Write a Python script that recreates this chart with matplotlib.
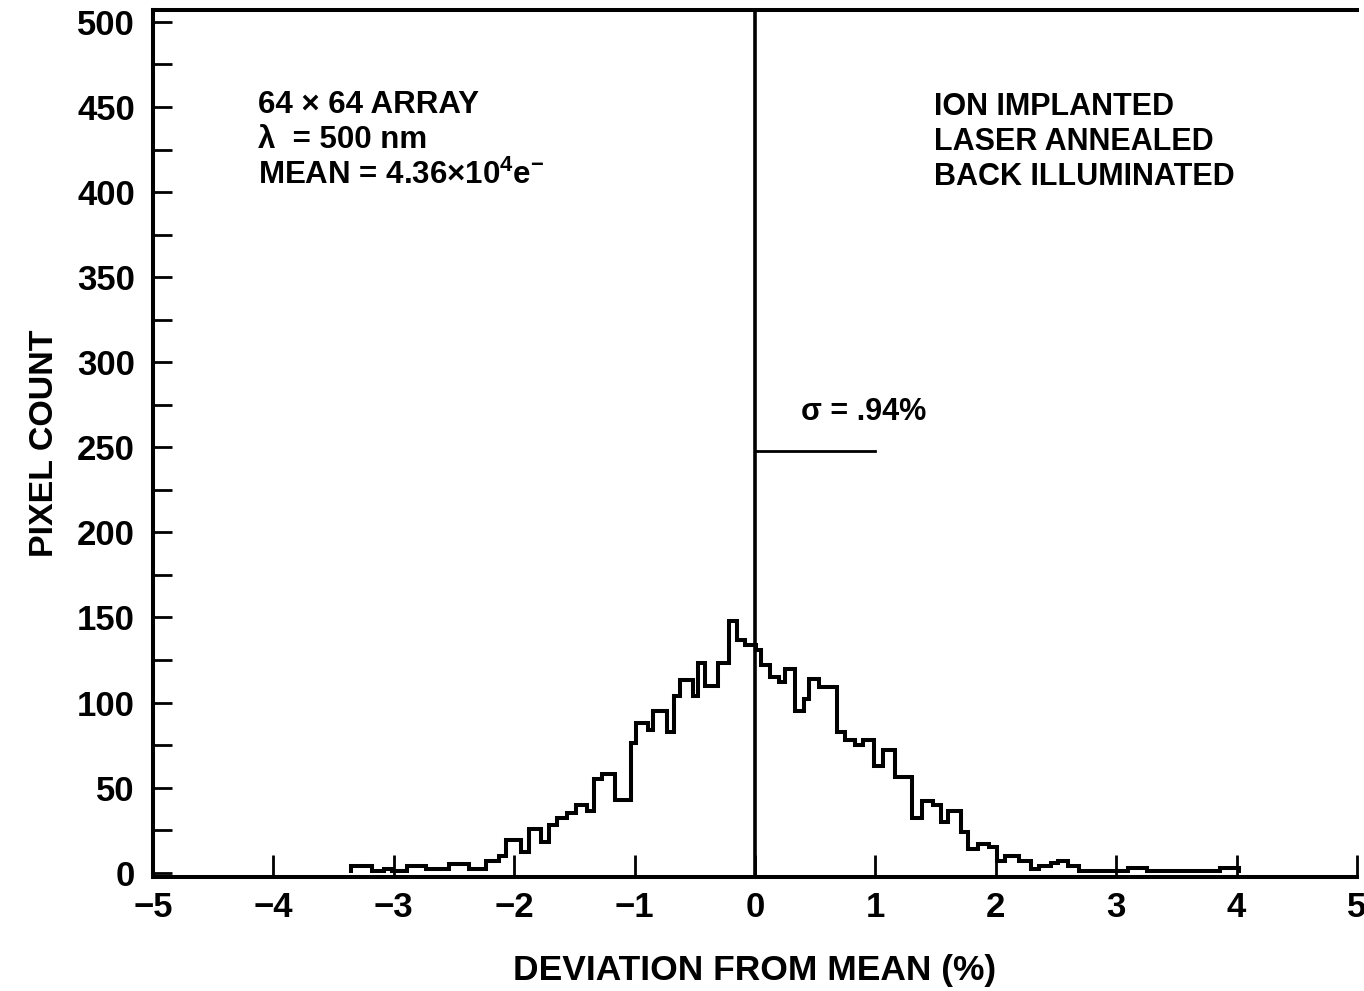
import matplotlib
matplotlib.use("Agg")
import matplotlib.pyplot as plt
from matplotlib.ticker import MultipleLocator

plt.rcParams['font.family'] = ['Liberation Sans', 'DejaVu Sans']
plt.rcParams['font.weight'] = 'bold'
plt.rcParams['mathtext.fontset'] = 'custom'
plt.rcParams['mathtext.rm'] = 'Liberation Sans:bold'
plt.rcParams['mathtext.bf'] = 'Liberation Sans:bold'
plt.rcParams['mathtext.default'] = 'bf'

# bin edges (deviation from mean, %) and pixel counts
edges = [-3.355, -3.185, -3.081, -3.016, -2.892, -2.733, -2.542, -2.375, -2.233, -2.125,
         -2.067, -1.942, -1.876, -1.777, -1.711, -1.645, -1.562, -1.488, -1.397, -1.339,
         -1.273, -1.165, -1.033, -0.992, -0.889, -0.849, -0.730, -0.675, -0.627, -0.516,
         -0.476, -0.413, -0.310, -0.214, -0.151, -0.079, 0.008, 0.048, 0.121, 0.202,
         0.250, 0.331, 0.403, 0.452, 0.532, 0.685, 0.750, 0.831, 0.895, 0.992,
         1.059, 1.161, 1.305, 1.390, 1.475, 1.542, 1.602, 1.712, 1.771, 1.856,
         1.941, 2.008, 2.074, 2.189, 2.295, 2.361, 2.459, 2.516, 2.598, 2.689,
         3.097, 3.258, 3.863, 4.016]
counts = [4, 1, 2, 1, 4, 2, 5, 2, 7, 10,
          19, 12, 26, 18, 28, 32, 35, 40, 36, 55,
          58, 43, 76, 88, 84, 95, 83, 104, 113, 104,
          123, 110, 123, 148, 137, 134, 131, 122, 115, 112,
          120, 95, 102, 114, 109, 83, 78, 75, 78, 63,
          72, 56, 32, 42, 40, 30, 36, 24, 14, 17,
          15, 7, 10, 7, 2, 4, 6, 7, 4, 1,
          3, 1, 3]

sigma = 0.94
sigma_y = 248

left_notes = ["64 \u00d7 64 ARRAY", "\u03bb  = 500 nm", "MEAN = 4.36$\\times$10$^{4}$e$^{-}$"]
right_notes = ["ION IMPLANTED", "LASER ANNEALED", "BACK ILLUMINATED"]

fig = plt.figure(figsize=(13.64, 9.91), dpi=100)
ax = fig.add_axes([153 / 1364, 1 - 877 / 991, (1357 - 153) / 1364, (877 - 10) / 991])

ax.stairs(counts, edges, color='black', lw=2.9)
ax.axvline(0, color='black', lw=2.6)
ax.plot([0, 1], [sigma_y, sigma_y], color='black', lw=2.0)
ax.text(0.38, 271, "\u03c3 = .%d%%" % round(sigma * 100), fontsize=22, fontweight='bold', va='center')

for i, s in enumerate(left_notes):
    ax.text(-4.13, 451 - i * 20.6, s, fontsize=22.5, fontweight='bold', va='center')
for i, s in enumerate(right_notes):
    ax.text(1.49, 450 - i * 20.6, s, fontsize=22, fontweight='bold', va='center')

ax.set_xlim(-5, 5)
ax.set_ylim(-2.5, 507)
ax.xaxis.set_major_locator(MultipleLocator(1))
ax.yaxis.set_major_locator(MultipleLocator(50))
ax.yaxis.set_minor_locator(MultipleLocator(25))
ax.tick_params(axis='both', which='both', direction='in', width=2.0, labelsize=25)
ax.tick_params(axis='x', length=16, pad=10)
ax.tick_params(axis='y', which='both', length=14, pad=13)
ax.tick_params(top=False, right=False)
ax.set_xticklabels([f"{int(v)}".replace('-', '\u2212') for v in ax.get_xticks()])

for side in ['left', 'bottom', 'top']:
    ax.spines[side].set_linewidth(2.9)
ax.spines['right'].set_visible(False)

ax.set_xlabel("DEVIATION FROM MEAN (%)", fontsize=25.5, fontweight='bold', labelpad=22)
ax.set_ylabel("PIXEL COUNT", fontsize=24.5, fontweight='bold', labelpad=12)

fig.savefig("out.png", dpi=100)
